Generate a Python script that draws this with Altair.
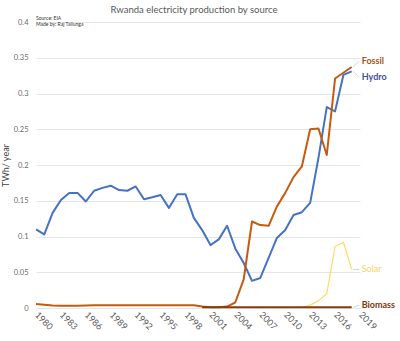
import altair as alt
import pandas as pd

years = list(range(1980, 2019))

hydro = [0.110, 0.103, 0.133, 0.151, 0.161, 0.161, 0.149, 0.164, 0.168, 0.171,
         0.165, 0.164, 0.170, 0.152, 0.155, 0.158, 0.140, 0.159, 0.159, 0.126,
         0.109, 0.088, 0.096, 0.115, 0.083, 0.063, 0.038, 0.042, 0.070, 0.098,
         0.109, 0.130, 0.134, 0.147, 0.210, 0.281, 0.275, 0.326, 0.331]

fossil = [0.0055, 0.0045, 0.0035, 0.003, 0.003, 0.003, 0.0035, 0.004, 0.004, 0.004,
          0.004, 0.004, 0.004, 0.004, 0.004, 0.004, 0.004, 0.004, 0.004, 0.004,
          0.002, 0.001, 0.001, 0.002, 0.008, 0.040, 0.121, 0.116, 0.115, 0.142,
          0.161, 0.183, 0.198, 0.250, 0.251, 0.214, 0.321, 0.329, 0.337]

solar = [None] * 32 + [0.001, 0.004, 0.010, 0.020, 0.086, 0.092, 0.054]

biomass = [None] * 20 + [0.001] * 19

series_names = ["Hydro", "Fossil", "Solar", "Biomass"]
series_values = [hydro, fossil, solar, biomass]
line_colors = ["#4472C4", "#C55A11", "#FFD966", "#843C0C"]
label_colors = ["#3F51A0", "#A65314", "#F5D560", "#7B3A10"]
line_widths = [2, 2, 1.2, 2]
label_weights = ["bold", "bold", "normal", "bold"]
label_dy = [6, -6, 0, -2]

x_ticks = list(range(1980, 2020, 3))
y_ticks = [0, 0.05, 0.1, 0.15, 0.2, 0.25, 0.3, 0.35, 0.4]

title_text = "Rwanda electricity production by source"
source_lines = ["Source: EIA", "Made by: Raj Tallunga"]

FONT = "Lato"

rows = []
for name, vals in zip(series_names, series_values):
    for y, v in zip(years, vals):
        if v is not None:
            rows.append({"series": name, "year": y, "value": v})
df = pd.DataFrame(rows)

x_scale = alt.Scale(domain=[1980, 2019], nice=False, zero=False)
y_scale = alt.Scale(domain=[0, 0.4], nice=False)

x_axis = alt.Axis(values=x_ticks, format="d", labelAngle=45, labelAlign="left",
                  labelBaseline="middle", labelPadding=5, labelFontSize=9,
                  labelColor="#595959", labelFont=FONT, labelOverlap=False,
                  labelFlush=False, labelBound=False, grid=False, domain=False,
                  ticks=False, title=None)
y_axis = alt.Axis(values=y_ticks, format="~g",
                  labelFontSize=7.5, labelColor="#6b6b6b", labelFont=FONT,
                  labelPadding=8, labelOverlap=False, grid=True,
                  gridColor="#e6e6e6", gridWidth=1,
                  domain=False, ticks=False, title="TWh/ year",
                  titleFont=FONT, titleFontSize=9, titleFontWeight="normal",
                  titleColor="#404040", titlePadding=3)

x_enc = alt.X("year:Q", scale=x_scale, axis=x_axis)
y_enc = alt.Y("value:Q", scale=y_scale, axis=y_axis)

layers = []
for i, name in enumerate(series_names):
    sub = df[df.series == name]
    layers.append(
        alt.Chart(sub).mark_line(color=line_colors[i], strokeWidth=line_widths[i],
                                 strokeJoin="round")
        .encode(x=x_enc, y=y_enc)
    )

for i, name in enumerate(series_names):
    end = df[df.series == name].tail(1)
    layers.append(
        alt.Chart(end).mark_rule(color="#c8c8c8", strokeWidth=0.8,
                                 xOffset=1.5, x2Offset=7.5, y2Offset=label_dy[i])
        .encode(x=x_enc, x2="year:Q", y=y_enc, y2="value:Q")
    )
    layers.append(
        alt.Chart(end.assign(label=name)).mark_text(
            align="left", baseline="middle", dx=10, dy=label_dy[i], font=FONT,
            fontSize=9, fontWeight=label_weights[i], color=label_colors[i])
        .encode(x=x_enc, y=y_enc, text="label:N")
    )

for j, line in enumerate(source_lines):
    layers.append(
        alt.Chart(pd.DataFrame({"t": [line]})).mark_text(
            align="left", baseline="middle", font=FONT, fontSize=5, color="#333333")
        .encode(x=alt.value(0), y=alt.value(-4 + 6 * j), text="t:N")
    )

chart = alt.layer(*layers).properties(
    width=324, height=286,
    padding={"left": 36, "top": 22, "right": 40, "bottom": 33},
    autosize=alt.AutoSizeParams(type="none"),
    background="white",
    title=alt.TitleParams(title_text, font=FONT, fontSize=9.5, fontWeight="normal",
                          color="#595959", anchor="middle", dx=-4, offset=2),
).configure_view(stroke=None)

chart.save("out.html", embed_options={"renderer": "svg", "actions": False})
